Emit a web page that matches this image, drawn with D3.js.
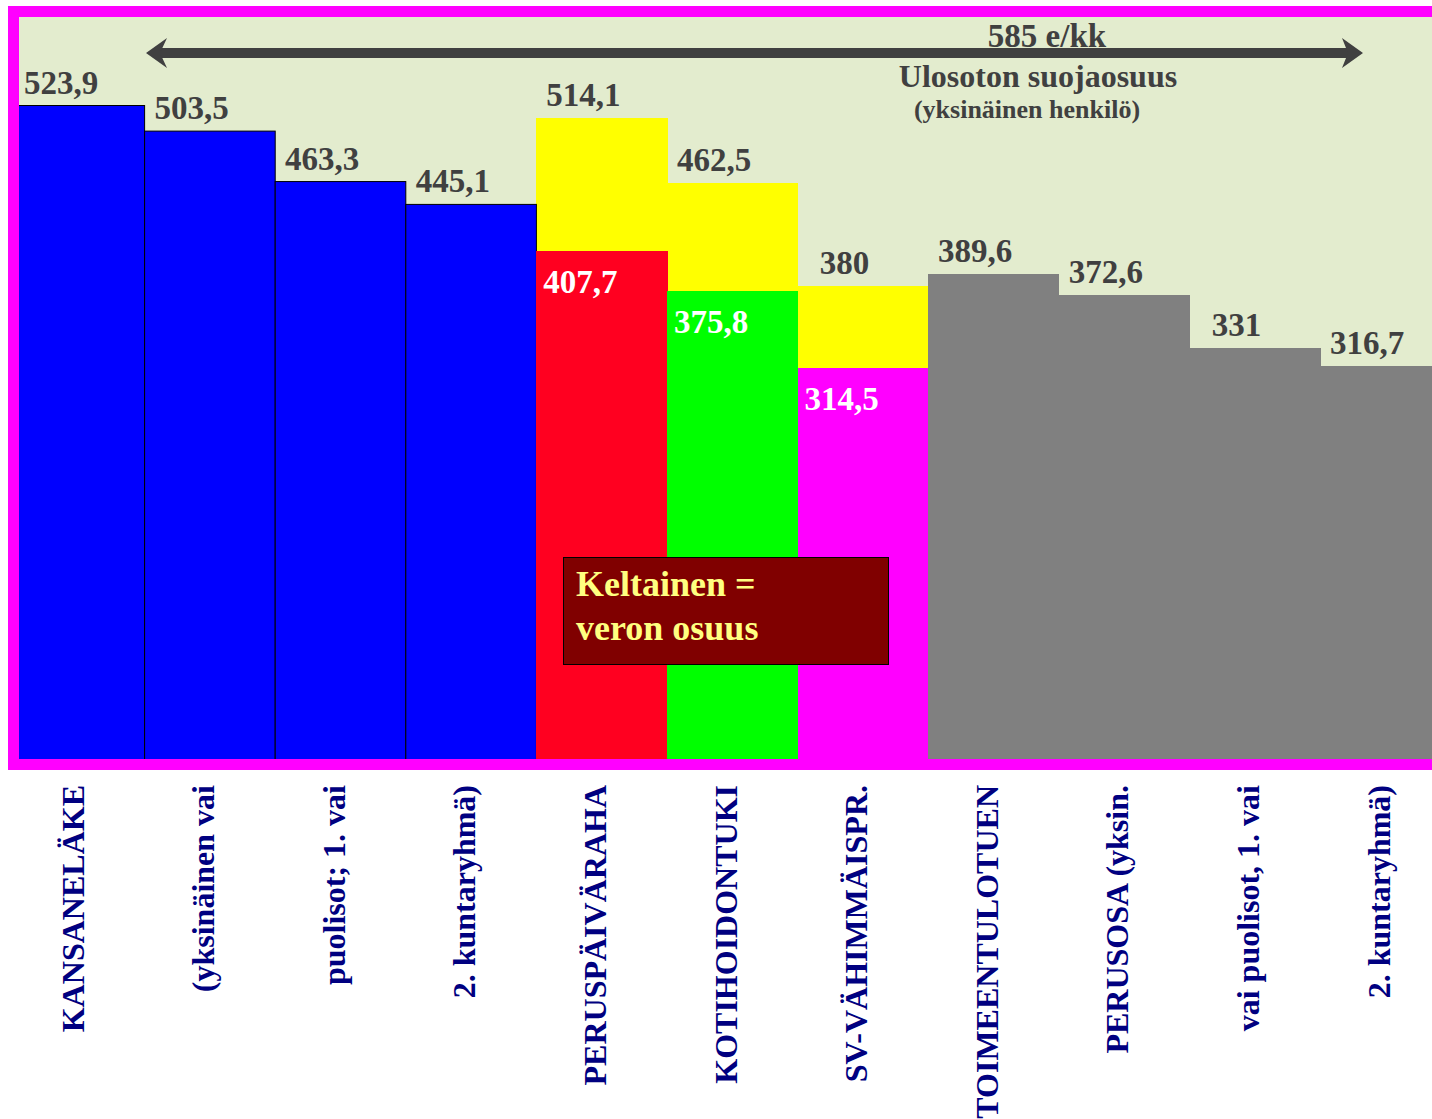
<!DOCTYPE html>
<html>
<head>
<meta charset="utf-8">
<script src="https://cdn.jsdelivr.net/npm/d3@7"></script>
<style>
  body { margin: 0; background: #fff; }
  svg { display: block; }
  text { font-family: "Liberation Serif", "Times New Roman", serif; font-weight: bold; }
  rect { shape-rendering: crispEdges; }
  rect.outlined { shape-rendering: auto; }
</style>
</head>
<body>
<script>
// pylväiden nimet (alarivin pystytekstit)
var categories = ["KANSANELÄKE", "(yksinäinen vai", "puolisot; 1. vai", "2. kuntaryhmä)",
  "PERUSPÄIVÄRAHA", "KOTIHOIDONTUKI", "SV-VÄHIMMÄISPR.",
  "TOIMEENTULOTUEN", "PERUSOSA (yksin.", "vai puolisot, 1. vai", "2. kuntaryhmä)"];
// etuuden ryhmä -> väri
var groups = ["kela", "kela", "kela", "kela", "tyottomyys", "kotihoito", "sairaus",
  "toimeentulo", "toimeentulo", "toimeentulo", "toimeentulo"];
// nettomäärä (e/kk)
var netValues = [523.9, 503.5, 463.3, 445.1, 407.7, 375.8, 314.5, 389.6, 372.6, 331, 316.7];
// bruttomäärä, kun verolla on osuus (keltainen osa)
var grossValues = [null, null, null, null, 514.1, 462.5, 380, null, null, null, null];
// ulosoton suojaosuus
var protectedShare = 585;
var protectedTexts = ["585 e/kk", "Ulosoton suojaosuus", "(yksinäinen henkilö)"];
var legendLines = ["Keltainen =", "veron osuus"];

var W = 1432, H = 1119;

var svg = d3.select("body").append("svg")
  .attr("width", W).attr("height", H);

var x = d3.scaleBand()
  .domain(d3.range(categories.length))
  .range([14, 1450.6])
  .padding(0);

var y = d3.scaleLinear()
  .domain([0, 600])
  .range([763, 10]);

var color = d3.scaleOrdinal()
  .domain(["kela", "tyottomyys", "kotihoito", "sairaus", "toimeentulo"])
  .range(["#0000ff", "#ff0020", "#00ff00", "#ff00ff", "#808080"]);

var fmt = function (v) { return String(v).replace(".", ","); };

// taustakenttä
svg.append("rect")
  .attr("x", 19).attr("y", 17)
  .attr("width", W).attr("height", 742)
  .attr("fill", "#e3ecce");

svg.append("clipPath").attr("id", "plot")
  .append("rect").attr("x", 19).attr("y", 17).attr("width", W).attr("height", 742);

var plot = svg.append("g").attr("clip-path", "url(#plot)");

// veron osuus (keltainen)
plot.selectAll(".tax")
  .data(d3.range(categories.length).filter(function (i) { return grossValues[i] != null; }))
  .enter().append("rect")
  .attr("class", "tax")
  .attr("x", function (i) { return x(i); })
  .attr("y", function (i) { return y(grossValues[i]); })
  .attr("width", x.bandwidth() + 0.5)
  .attr("height", function (i) { return y(netValues[i]) - y(grossValues[i]); })
  .attr("fill", "#ffff00");

// nettopylväät (sinisillä ohut musta reuna)
plot.selectAll(".bar")
  .data(netValues)
  .enter().append("rect")
  .attr("class", function (d, i) { return groups[i] === "kela" ? "bar outlined" : "bar"; })
  .attr("x", function (d, i) { return x(i); })
  .attr("y", function (d) { return y(d); })
  .attr("width", function (d, i) { return groups[i] === "kela" ? x.bandwidth() : x.bandwidth() + 0.5; })
  .attr("height", function (d) { return y(0) - y(d); })
  .attr("fill", function (d, i) { return color(groups[i]); })
  .attr("stroke", function (d, i) { return groups[i] === "kela" ? "#000" : "none"; })
  .attr("stroke-width", 1);

// arvot pylväiden yläpuolella
plot.selectAll(".topLabel")
  .data(netValues)
  .enter().append("text")
  .attr("class", "topLabel")
  .attr("x", function (d, i) { return x(i) + 47; })
  .attr("y", function (d, i) { return y(grossValues[i] != null ? grossValues[i] : d) - 12; })
  .attr("text-anchor", "middle")
  .attr("font-size", 33)
  .attr("fill", "#404040")
  .text(function (d, i) { return fmt(grossValues[i] != null ? grossValues[i] : d); });

// nettoarvot pinottujen sisällä
plot.selectAll(".inLabel")
  .data(d3.range(categories.length).filter(function (i) { return grossValues[i] != null; }))
  .enter().append("text")
  .attr("class", "inLabel")
  .attr("x", function (i) { return x(i) + 44; })
  .attr("y", function (i) { return y(netValues[i]) + 42; })
  .attr("text-anchor", "middle")
  .attr("font-size", 33)
  .attr("fill", "#fff")
  .text(function (i) { return fmt(netValues[i]); });

// suojaosuuden nuoli
var arrowY = 53;
var arrow = plot.append("g").attr("fill", "#404040");
arrow.append("rect")
  .attr("x", 158).attr("y", arrowY - 5)
  .attr("width", 1348 - 158).attr("height", 10);
arrow.append("path")
  .attr("d", "M146," + arrowY + " L167," + (arrowY - 15) + " L160," + arrowY + " L167," + (arrowY + 15) + "Z");
arrow.append("path")
  .attr("d", "M1363," + arrowY + " L1342," + (arrowY - 15) + " L1348," + arrowY + " L1342," + (arrowY + 15) + "Z");

plot.append("text")
  .attr("x", 1047).attr("y", 47)
  .attr("text-anchor", "middle").attr("font-size", 33).attr("fill", "#404040")
  .text(protectedTexts[0]);
plot.append("text")
  .attr("x", 1038).attr("y", 87)
  .attr("text-anchor", "middle").attr("font-size", 32).attr("fill", "#404040")
  .text(protectedTexts[1]);
plot.append("text")
  .attr("x", 1027).attr("y", 118)
  .attr("text-anchor", "middle").attr("font-size", 26).attr("fill", "#404040")
  .text(protectedTexts[2]);

// selite
var legend = plot.append("g");
legend.append("rect")
  .attr("x", 563.5).attr("y", 557.5)
  .attr("width", 325).attr("height", 107)
  .attr("fill", "#800000").attr("stroke", "#000").attr("stroke-width", 1);
legend.selectAll("text")
  .data(legendLines)
  .enter().append("text")
  .attr("x", 576)
  .attr("y", function (d, i) { return 596 + i * 44; })
  .attr("font-size", 36)
  .attr("fill", "#ffff80")
  .text(function (d) { return d; });

// magenta kehys
svg.append("rect")
  .attr("x", 13.5).attr("y", 11.5)
  .attr("width", W).attr("height", 753)
  .attr("fill", "none")
  .attr("stroke", "#ff00ff")
  .attr("stroke-width", 11);

// pystysuuntaiset luokkanimet
svg.selectAll(".cat")
  .data(categories)
  .enter().append("text")
  .attr("class", "cat")
  .attr("transform", function (d, i) {
    return "translate(" + (x(i) + x.bandwidth() / 2 - 7) + ",785) rotate(-90)";
  })
  .attr("dy", "0.35em")
  .attr("text-anchor", "end")
  .attr("font-size", 32)
  .attr("fill", "#000080")
  .text(function (d) { return d; });
</script>
</body>
</html>
